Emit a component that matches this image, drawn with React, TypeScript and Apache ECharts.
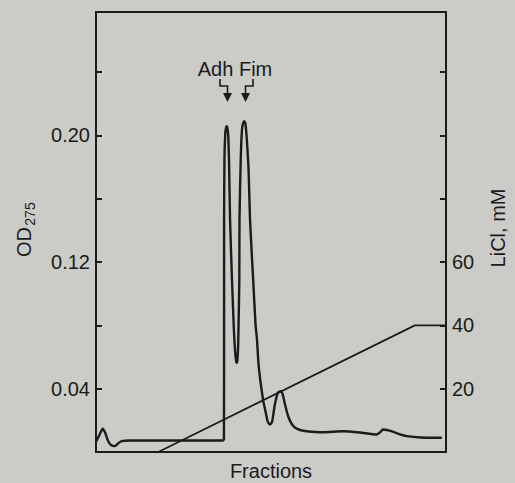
import React, { useEffect, useRef } from "react";
import * as echarts from "echarts";

// OD275 trace (fraction, absorbance)
const odFractions = [
  0.1, 0.9, 1.9, 2.6, 3.4, 4.3, 5.4, 6.3, 7.3, 9.7, 36.2, 36.55, 36.6, 36.6, 36.7, 36.9,
  37.1, 37.35, 37.6, 37.8, 38.0, 38.3, 38.85, 39.4, 39.7, 40.0, 40.2, 40.4, 40.6, 40.7,
  40.95, 41.0, 41.35, 41.7, 42.0, 42.35, 42.7, 43.1, 43.6, 44.0, 44.9, 45.6, 46.0, 46.4,
  46.9, 47.3, 47.8, 48.3, 49.1, 49.7, 50.3, 51.1, 52.0, 52.8, 53.4, 54.0, 54.9, 56.0,
  56.9, 58.3, 60.2, 64.9, 70.6, 75.4, 80.2, 81.1, 82.0, 83.1, 84.6, 86.9, 88.8, 92.6, 98.8,
];
const odValues = [
  0.0068, 0.0104, 0.0147, 0.0123, 0.0073, 0.0044, 0.0037, 0.0054, 0.0069, 0.0073, 0.0073,
  0.008, 0.096, 0.147, 0.185, 0.2, 0.2045, 0.2058, 0.204, 0.199, 0.185, 0.147, 0.109,
  0.077, 0.065, 0.058, 0.0563, 0.058, 0.066, 0.077, 0.109, 0.147, 0.185, 0.2035, 0.2075,
  0.209, 0.2075, 0.197, 0.178, 0.147, 0.109, 0.08, 0.071, 0.0565, 0.046, 0.0395, 0.032,
  0.027, 0.019, 0.0174, 0.019, 0.03, 0.0376, 0.0384, 0.036, 0.03, 0.0226, 0.0174, 0.0153,
  0.0139, 0.0131, 0.0125, 0.0131, 0.0123, 0.0111, 0.0123, 0.0142, 0.0139, 0.013, 0.0111,
  0.01, 0.0092, 0.009,
];

// LiCl gradient (fraction, mM)
const gradFractions = [17.8, 91.1, 100];
const gradValues = [0, 40, 40];

const odLabelTicks = [0.04, 0.12, 0.2];
const liclLabelTicks = [20, 40, 60];

const INK = "#1b1b1b";
const FONT = "'Liberation Sans', Arial, Helvetica, sans-serif";

export default function App() {
  const ref = useRef<HTMLDivElement>(null);

  useEffect(() => {
    if (!ref.current) return;
    const chart = echarts.init(ref.current, null, { renderer: "svg" });
    const odData = odFractions.map((f, i) => [f, odValues[i]]);
    const gradData = gradFractions.map((f, i) => [f, gradValues[i]]);

    chart.setOption({
      animation: false,
      backgroundColor: "#cbcbc8",
      grid: {
        left: 96,
        right: 69,
        top: 12,
        bottom: 31,
        show: true,
        borderColor: INK,
        borderWidth: 2,
        containLabel: false,
        outerBoundsMode: "none",
      },
      xAxis: {
        type: "value",
        min: 0,
        max: 100,
        name: "Fractions",
        nameLocation: "middle",
        nameGap: 9,
        nameTextStyle: {
          color: INK,
          fontSize: 20,
          lineHeight: 20,
          fontFamily: FONT,
          verticalAlign: "top",
        },
        axisLine: { show: true, lineStyle: { color: INK, width: 2 } },
        axisTick: { show: false },
        axisLabel: { show: false },
        splitLine: { show: false },
      },
      yAxis: [
        {
          type: "value",
          min: 0,
          max: 0.278,
          interval: 0.04,
          position: "left",
          axisLine: { show: true, lineStyle: { color: INK, width: 2 } },
          axisTick: { show: true, inside: true, length: 6, lineStyle: { color: INK, width: 2 } },
          axisLabel: {
            color: INK,
            fontSize: 20,
            fontFamily: FONT,
            margin: 6,
            formatter: (v: number) =>
              odLabelTicks.some((t) => Math.abs(t - v) < 1e-6) ? v.toFixed(2) : "",
          },
          splitLine: { show: false },
        },
        {
          type: "value",
          min: 0,
          max: 139,
          interval: 20,
          position: "right",
          axisLine: { show: true, lineStyle: { color: INK, width: 2 } },
          axisTick: { show: true, inside: true, length: 6, lineStyle: { color: INK, width: 2 } },
          axisLabel: {
            color: INK,
            fontSize: 20,
            fontFamily: FONT,
            margin: 6,
            formatter: (v: number) =>
              liclLabelTicks.some((t) => Math.abs(t - v) < 1e-6) ? String(v) : "",
          },
          splitLine: { show: false },
        },
      ],
      series: [
        {
          type: "line",
          yAxisIndex: 0,
          data: odData,
          showSymbol: false,
          smooth: 0.2,
          lineStyle: { color: INK, width: 2.4 },
        },
        {
          type: "line",
          yAxisIndex: 1,
          data: gradData,
          showSymbol: false,
          lineStyle: { color: INK, width: 1.7 },
        },
      ],
      graphic: [
        {
          type: "text",
          x: 235,
          y: 69,
          style: {
            text: "Adh Fim",
            fill: INK,
            font: `20px ${FONT}`,
            textAlign: "center",
            textVerticalAlign: "middle",
          },
        },
        {
          type: "polyline",
          shape: { points: [[220, 79], [220, 86], [227.5, 86], [227.5, 94]] },
          style: { stroke: INK, lineWidth: 1.6, fill: "none" },
        },
        {
          type: "polygon",
          shape: { points: [[223, 93], [232, 93], [227.5, 102]] },
          style: { fill: INK },
        },
        {
          type: "polyline",
          shape: { points: [[253, 79], [253, 86], [245.5, 86], [245.5, 94]] },
          style: { stroke: INK, lineWidth: 1.6, fill: "none" },
        },
        {
          type: "polygon",
          shape: { points: [[241, 93], [250, 93], [245.5, 102]] },
          style: { fill: INK },
        },
        {
          type: "text",
          x: 24,
          y: 242,
          rotation: Math.PI / 2,
          style: {
            text: "OD",
            fill: INK,
            font: `20px ${FONT}`,
            textAlign: "center",
            textVerticalAlign: "middle",
          },
        },
        {
          type: "text",
          x: 30,
          y: 214,
          rotation: Math.PI / 2,
          style: {
            text: "275",
            fill: INK,
            font: `14px ${FONT}`,
            textAlign: "center",
            textVerticalAlign: "middle",
          },
        },
        {
          type: "text",
          x: 498,
          y: 228,
          rotation: Math.PI / 2,
          style: {
            text: "LiCl, mM",
            fill: INK,
            font: `20px ${FONT}`,
            textAlign: "center",
            textVerticalAlign: "middle",
          },
        },
      ],
    });

    return () => chart.dispose();
  }, []);

  return (
    <div
      ref={ref}
      style={{ position: "absolute", left: 0, top: 0, width: 515, height: 483 }}
    />
  );
}
